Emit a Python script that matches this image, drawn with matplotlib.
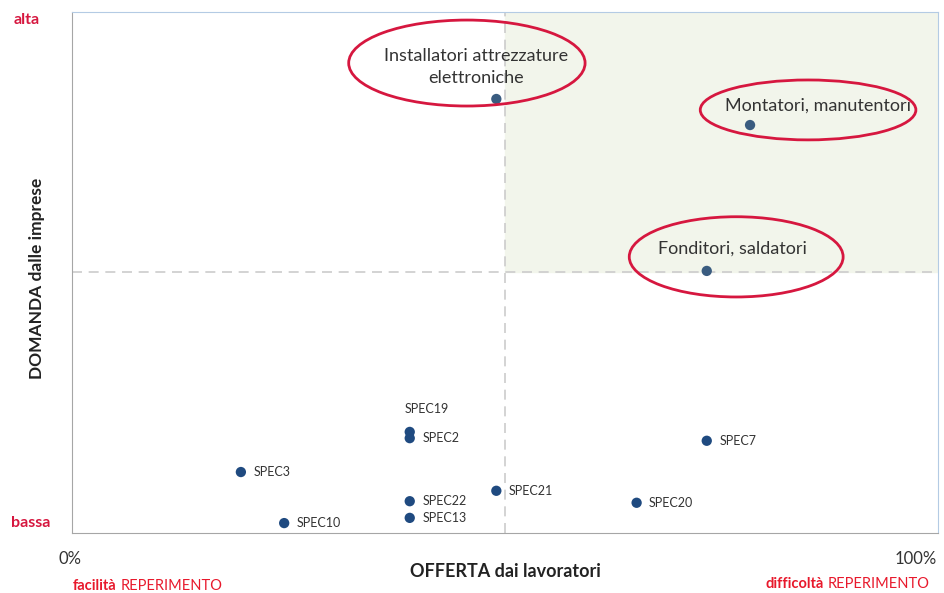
import matplotlib
matplotlib.use('Agg')
import matplotlib.pyplot as plt
from matplotlib.patches import Ellipse, Rectangle

plt.rcParams['font.family'] = ['Lato', 'DejaVu Sans']

# profili evidenziati (offerta %, domanda %)
big_names = ['Installatori attrezzature\nelettroniche', 'Montatori, manutentori', 'Fonditori, saldatori']
big_x = [49.0, 78.3, 73.3]
big_y = [83.3, 78.3, 50.3]

# altri profili
spec_names = ['SPEC19', 'SPEC2', 'SPEC7', 'SPEC3', 'SPEC21', 'SPEC22', 'SPEC20', 'SPEC13', 'SPEC10']
spec_x = [39.0, 39.0, 73.3, 19.5, 49.0, 39.0, 65.2, 39.0, 24.5]
spec_y = [19.4, 18.2, 17.7, 11.7, 8.1, 6.1, 5.8, 2.9, 1.9]

mid_x = 50
mid_y = 50

red = '#d6173f'
bright_red = '#e8192c'

fig = plt.figure(figsize=(9.44, 5.93), dpi=100)
ax = fig.add_axes([0.0763, 0.1012, 0.9173, 0.8786])
ax.set_xlim(0, 100)
ax.set_ylim(0, 100)

# quadrante critico
ax.add_patch(Rectangle((mid_x, mid_y), 100 - mid_x, 100 - mid_y, color='#f2f5eb', zorder=0))
ax.axvline(mid_x, color='#cccccc', ls=(0, (6, 4)), lw=1.2, zorder=1)
ax.axhline(mid_y, color='#cccccc', ls=(0, (6, 4)), lw=1.2, zorder=1)

ax.scatter(spec_x, spec_y, s=55, color='#1f4a80', zorder=3, edgecolors='none')
ax.scatter(big_x, big_y, s=55, color='#3a5c80', zorder=3, edgecolors='none')

for name, x, y in zip(spec_names, spec_x, spec_y):
    if name == 'SPEC19':
        ax.annotate(name, (x, y), xytext=(12, 12), textcoords='offset points',
                    ha='center', va='bottom', fontsize=9, color='#333333')
    else:
        ax.annotate(name, (x, y), xytext=(9, 0), textcoords='offset points',
                    ha='left', va='center', fontsize=9, color='#333333')

# etichette ed ellissi dei profili evidenziati: (dx testo, dy testo, dx ellisse, dy ellisse, w, h)
big_layout = [(-2.3, 6.2, -3.4, 6.9, 27.3, 16.5),
              (7.8, 3.7, 6.7, 2.9, 24.9, 11.5),
              (3.0, 4.2, 3.4, 2.7, 24.7, 15.4)]
for name, x, y, (tx, ty, ex, ey, w, h) in zip(big_names, big_x, big_y, big_layout):
    ax.text(x + tx, y + ty, name, ha='center', va='center', fontsize=13,
            color='#333333', linespacing=1.45, zorder=4)
    ax.add_patch(Ellipse((x + ex, y + ey), w, h, fill=False, edgecolor=red, lw=2, zorder=5))

ax.set_xticks([])
ax.set_yticks([])
for side in ['left', 'bottom']:
    ax.spines[side].set_color('#a6a6a6')
for side in ['top', 'right']:
    ax.spines[side].set_color('#b4cbe4')

fig.text(0.535, 0.037, 'OFFERTA dai lavoratori', ha='center', va='center',
         fontsize=13, fontweight='bold', color='#222222')
fig.text(0.039, 0.53, 'DOMANDA dalle imprese', ha='center', va='center', rotation=90,
         fontsize=12.5, fontweight='bold', color='#222222')
fig.text(0.074, 0.057, '0%', ha='center', va='center', fontsize=12, color='#333333')
fig.text(0.992, 0.057, '100%', ha='right', va='center', fontsize=12, color='#333333')
fig.text(0.028, 0.966, 'alta', ha='center', va='center', fontsize=11.5, fontweight='bold', color=red)
fig.text(0.032, 0.118, 'bassa', ha='center', va='center', fontsize=11.5, fontweight='bold', color=red)

t1 = fig.text(0.077, 0.012, 'facilità', ha='left', va='center', fontsize=10.5, fontweight='bold', color=bright_red)
ax.annotate('REPERIMENTO', xy=(1, 0.5), xycoords=t1, xytext=(3, 0), textcoords='offset points',
            ha='left', va='center', fontsize=10.5, color=bright_red, annotation_clip=False)
t2 = fig.text(0.811, 0.015, 'difficoltà', ha='left', va='center', fontsize=10.5, fontweight='bold', color=bright_red)
ax.annotate('REPERIMENTO', xy=(1, 0.5), xycoords=t2, xytext=(3, 0), textcoords='offset points',
            ha='left', va='center', fontsize=10.5, color=bright_red, annotation_clip=False)

fig.savefig('out.png', dpi=100)
